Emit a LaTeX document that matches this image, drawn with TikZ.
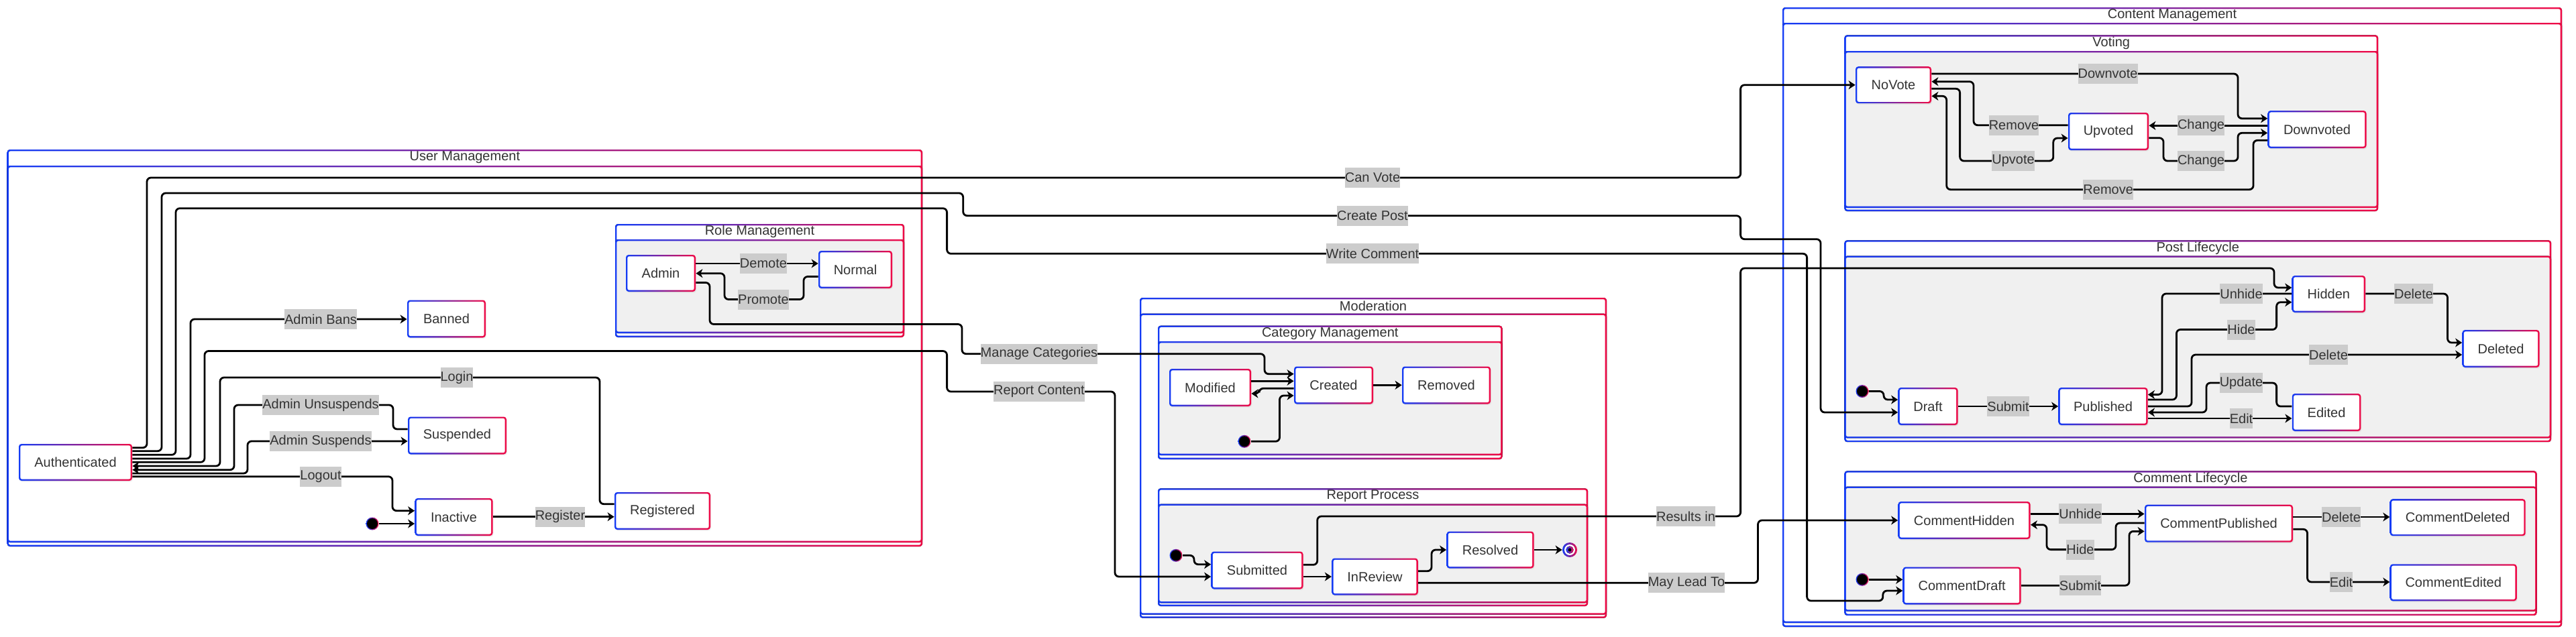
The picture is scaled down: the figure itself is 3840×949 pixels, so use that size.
\documentclass[tikz,border=0pt]{standalone}
\usepackage{fontspec}
\setmainfont{Liberation Sans}
\usetikzlibrary{arrows.meta,calc,shadows}

\definecolor{gblue}{RGB}{20,60,245}
\definecolor{gred}{RGB}{240,10,70}
\definecolor{txt}{RGB}{51,51,51}
\definecolor{lblbg}{RGB}{204,204,204}
\definecolor{clgray}{RGB}{240,240,240}

\newcommand\myfs{\fontsize{10pt}{12pt}\selectfont}

\newcommand\gbox[5]{%
  \fill[left color=gblue,right color=gred,rounded corners=2pt] (#1,#2) rectangle (#3,#4);
  \fill[#5,rounded corners=1.2pt] ([shift={(1.2pt,-1.2pt)}]#1,#2) rectangle ([shift={(-1.2pt,1.2pt)}]#3,#4);
}
\newcommand\clusterbox[9]{%
  \gbox{#2}{#3}{#4}{#5}{white}
  \gbox{#2}{#6}{#4}{#7}{#8}
  \node[ctitle] (#1) at ($(#2,#3)!0.5!(#4,#6)$) {#9};
}

\tikzset{
  st/.style={rectangle, rounded corners=2pt, left color=gblue, right color=gred, draw=none,
    text=txt, font=\myfs, inner sep=0pt,
    drop shadow={shadow xshift=0.5pt, shadow yshift=-0.8pt, opacity=0.12},
    path picture={\fill[white,rounded corners=1.2pt]
      ([shift={(1.2pt,1.2pt)}]path picture bounding box.south west) rectangle
      ([shift={(-1.2pt,-1.2pt)}]path picture bounding box.north east);}},
  sz/.style 2 args={minimum width=#1*0.5pt, minimum height=#2*0.5pt},
  lbl/.style={fill=lblbg, text=txt, font=\myfs, inner xsep=0pt, inner ysep=0pt,
    minimum height=15pt, sharp corners},
  ctitle/.style={text=txt, font=\myfs, inner sep=0pt},
  ini/.style={circle, minimum size=9.5pt, inner sep=0pt, left color=gblue, right color=gred,
    path picture={\fill[black] (path picture bounding box.center) circle (4pt);}},
  fin/.style={circle, minimum size=11pt, inner sep=0pt, left color=gblue, right color=gred,
    path picture={\fill[white] (path picture bounding box.center) circle (4pt);
      \fill[left color=gblue,right color=gred] (path picture bounding box.center) circle (2.8pt);
      \fill[black] (path picture bounding box.center) circle (1.2pt);}},
  tr/.style={draw=black, line width=1.4pt, rounded corners=3pt,
    -{Stealth[length=5pt,width=6.5pt,inset=1.5pt]}},
}

\begin{document}
\begin{tikzpicture}[x=0.5pt,y=-0.5pt]
\fill[white] (0,0) rectangle (3840,949);
\useasboundingbox (0,0) rectangle (3840,949);

% ---------- clusters ----------
\clusterbox{tUser}{10.7}{223}{1375}{815}{247}{809}{white}{User Management}
\clusterbox{tRole}{917}{334}{1348}{503}{357}{497}{clgray}{Role Management}
\clusterbox{tMod}{1699}{444}{2395}{921.7}{467.7}{916.7}{white}{Moderation}
\clusterbox{tCat}{1726}{485.7}{2239.5}{685}{509}{679}{clgray}{Category Management}
\clusterbox{tRep}{1726}{728.3}{2367}{904}{751.7}{899.3}{clgray}{Report Process}
\clusterbox{tCont}{2657}{11}{3819}{935}{34}{929}{white}{Content Management}
\clusterbox{tVote}{2749.4}{52.3}{3545}{315}{76}{310}{clgray}{Voting}
\clusterbox{tPost}{2749.4}{358.3}{3803}{659.2}{381.6}{653.4}{clgray}{Post Lifecycle}
\clusterbox{tCom}{2749.4}{702.3}{3781.5}{917.9}{725.6}{911.7}{clgray}{Comment Lifecycle}

% ---------- states ----------
\node[st, sz={169}{55}] (auth) at (112.5,689.5) {Authenticated};
\node[st, sz={117}{56}] (banned) at (665.5,475.5) {Banned};
\node[st, sz={147}{56}] (suspended) at (681.5,649.5) {Suspended};
\node[st, sz={116}{56}] (inactive) at (676.5,771) {Inactive};
\node[st, sz={143}{56}] (registered) at (987.5,762) {Registered};
\node[st, sz={104}{55}] (admin) at (985,407.5) {Admin};
\node[st, sz={110}{56}] (normal) at (1275,402) {Normal};
\node[ini] (ini1) at (555,781) {};

\node[st, sz={122}{56}] (modified) at (1804,578) {Modified};
\node[st, sz={118}{56}] (created) at (1988,574.5) {Created};
\node[st, sz={132}{56}] (removed) at (2156,574.5) {Removed};
\node[ini] (ini2) at (1855,658.3) {};
\node[st, sz={137}{56}] (submitted) at (1874,850.5) {Submitted};
\node[st, sz={128.5}{55}] (inreview) at (2049.5,860) {InReview};
\node[st, sz={130}{55}] (resolved) at (2221.5,820) {Resolved};
\node[ini] (ini3) at (1753,828.3) {};
\node[fin] (fin) at (2340,820) {};

\node[st, sz={113}{55}] (novote) at (2822.5,126.7) {NoVote};
\node[st, sz={120}{56}] (upvoted) at (3143,196) {Upvoted};
\node[st, sz={147}{56}] (downvoted) at (3454,193) {Downvoted};

\node[st, sz={89}{56}] (draft) at (2874,606) {Draft};
\node[st, sz={133}{56}] (published) at (3135,606) {Published};
\node[st, sz={109.4}{55}] (hidden) at (3471.3,438.5) {Hidden};
\node[st, sz={115}{56}] (deleted) at (3728,520) {Deleted};
\node[st, sz={102.5}{56}] (edited) at (3468,615) {Edited};
\node[ini] (ini4) at (2776,583.5) {};

\node[st, sz={197}{56}] (chidden) at (2928,776) {CommentHidden};
\node[st, sz={221}{56}] (cpub) at (3307.5,780.7) {CommentPublished};
\node[st, sz={202}{55}] (cdeleted) at (3663.7,771.7) {CommentDeleted};
\node[st, sz={176}{56}] (cdraft) at (2924.6,873.5) {CommentDraft};
\node[st, sz={189}{55}] (cedited) at (3657.2,868.8) {CommentEdited};
\node[ini] (ini5) at (2776,864.3) {};

% ---------- transitions: user management ----------
\draw[tr] (auth.east |- 0,667.7) -| (219,265) -- (2594.6,265) |- (novote.west);
\draw[tr] (auth.east |- 0,672.7) -| (241,288) -| (1435.7,321.7) -| (2594.6,356.7) -| (2714,615) -- (draft.west |- 0,615);
\draw[tr] (auth.east |- 0,678.3) -| (262,310.7) -| (1411.6,378.3) -| (2693.6,896) -| (2806.8,881) -- (cdraft.west |- 0,881);
\draw[tr] (auth.east |- 0,684) -| (284,476) -- (banned.west |- 0,476);
\draw[tr] (auth.east |- 0,689.3) -| (305,523.5) -| (1411.6,584) -| (1662,860) -- (submitted.west |- 0,860);
\draw[tr] (registered.west |- 0,751.7) -| (894,563) -| (328,695) -- (auth.east |- 0,695);
\draw[tr] (suspended.west |- 0,640) -| (586,604) -| (349,700.7) -- (auth.east |- 0,700.7);
\draw[tr] (auth.east |- 0,706) -| (369,658) -- (suspended.west |- 0,658);
\draw[tr] (auth.east |- 0,710.7) -| (585,761.7) -- (inactive.west |- 0,761.7);
\draw[tr] (ini1) -- (inactive.west |- ini1);
\draw[tr] (inactive.east |- 0,770.7) -- (registered.west |- 0,770.7);
\draw[tr] (admin.east |- 0,393) -- (normal.west |- 0,393);
\draw[tr] (normal.west |- 0,412.5) -| (1198,446.5) -| (1080,407.7) -- (admin.east |- 0,407.7);
\draw[tr] (admin.east |- 0,421.5) -| (1058,483.5) -| (1434,527.7) -| (1885,557.7) -- (created.west |- 0,557.7);

% ---------- moderation ----------
\draw[tr] (modified.east |- 0,568.3) -- (created.west |- 0,568.3);
\draw[tr] (created.west |- 0,579.3) -| (1877,587) -- (modified.east |- 0,587);
\draw[tr] (ini2) -| (1907.5,590) -- (created.west |- 0,590);
\draw[tr] (created.east |- 0,574.3) -- (removed.west |- 0,574.3);
\draw[tr] (ini3) -| (1780,841.7) -- (submitted.west |- 0,841.7);
\draw[tr] (submitted.east |- 0,860) -- (inreview.west |- 0,860);
\draw[tr] (submitted.east |- 0,842.3) -| (1963.7,770) -| (2594.6,400) -| (3390,429) -- (hidden.west |- 0,429);
\draw[tr] (inreview.east |- 0,851.7) -| (2134,820) -- (resolved.west |- 0,820);
\draw[tr] (resolved.east |- fin) -- (fin);
\draw[tr] (inreview.east |- 0,869.3) -| (2620.5,776) -- (chidden.west |- 0,776);

% ---------- voting ----------
\draw[tr] (novote.east |- 0,110) -| (3336,176.7) -- (downvoted.west |- 0,176.7);
\draw[tr] (upvoted.west |- 0,186.7) -| (2942,121.7) -- (novote.east |- 0,121.7);
\draw[tr] (novote.east |- 0,132.3) -| (2921.6,240) -| (3060.8,206) -- (upvoted.west |- 0,206);
\draw[tr] (downvoted.west |- 0,187.3) -- (upvoted.east |- 0,187.3);
\draw[tr] (upvoted.east |- 0,205.7) -| (3225,240) -| (3336,198.3) -- (downvoted.west |- 0,198.3);
\draw[tr] (downvoted.west |- 0,209.3) -| (3359,282.7) -| (2901.7,143.3) -- (novote.east |- 0,143.3);

% ---------- post lifecycle ----------
\draw[tr] (ini4) -| (2808,596) -- (draft.west |- 0,596);
\draw[tr] (draft.east |- 0,606) -- (published.west |- 0,606);
\draw[tr] (hidden.west |- 0,438) -| (3223,588.5) -- (published.east |- 0,588.5);
\draw[tr] (published.east |- 0,596) -| (3244.4,491.5) -| (3393.6,450.7) -- (hidden.west |- 0,450.7);
\draw[tr] (published.east |- 0,606) -| (3267,529) -- (deleted.west |- 0,529);
\draw[tr] (edited.west |- 0,606) -| (3393.6,571) -| (3289,615) -- (published.east |- 0,615);
\draw[tr] (published.east |- 0,624) -- (edited.west |- 0,624);
\draw[tr] (hidden.east |- 0,438) -| (3648.5,511) -- (deleted.west |- 0,511);

% ---------- comment lifecycle ----------
\draw[tr] (chidden.east |- 0,766.4) -- (cpub.west |- 0,766.4);
\draw[tr] (cpub.west |- 0,780) -| (3154,819.6) -| (3051,782.7) -- (chidden.east |- 0,782.7);
\draw[tr] (cdraft.east |- 0,873.2) -| (3174,792.4) -- (cpub.west |- 0,792.4);
\draw[tr] (ini5) -- (cdraft.west |- ini5);
\draw[tr] (cpub.east |- 0,771) -- (cdeleted.west |- 0,771);
\draw[tr] (cpub.east |- 0,789.3) -| (3439.5,868) -- (cedited.west |- 0,868);

% ---------- labels ----------
\node[lbl] (lCanVote) at (2046,265) {Can Vote};
\node[lbl] (lCreatePost) at (2046,321.7) {Create Post};
\node[lbl] (lWriteComment) at (2046,378.3) {Write Comment};
\node[lbl] (lAdminBans) at (478,476) {Admin Bans};
\node[lbl] (lReport) at (1549,584) {Report Content};
\node[lbl] (lLogin) at (681,563) {Login};
\node[lbl] (lUnsusp) at (478,604) {Admin Unsuspends};
\node[lbl] (lSusp) at (478,658) {Admin Suspends};
\node[lbl] (lLogout) at (478,710.7) {Logout};
\node[lbl] (lRegister) at (835,770.7) {Register};
\node[lbl] (lDemote) at (1138,393) {Demote};
\node[lbl] (lPromote) at (1138,446.5) {Promote};
\node[lbl] (lManage) at (1549,527.7) {Manage Categories};
\node[lbl] (lResults) at (2513,770) {Results in};
\node[lbl] (lMayLead) at (2514,869.3) {May Lead To};
\node[lbl] (lDownvote) at (3142,110) {Downvote};
\node[lbl] (lRemove1) at (3002,186.7) {Remove};
\node[lbl] (lUpvote) at (3001,240) {Upvote};
\node[lbl] (lChange1) at (3281,187.3) {Change};
\node[lbl] (lChange2) at (3281,240) {Change};
\node[lbl] (lRemove2) at (3142.7,282.7) {Remove};
\node[lbl] (lSubmit1) at (2993.5,606) {Submit};
\node[lbl] (lUnhide1) at (3341,438) {Unhide};
\node[lbl] (lHide1) at (3341,491.5) {Hide};
\node[lbl] (lDelete1) at (3471,529) {Delete};
\node[lbl] (lUpdate) at (3341,571) {Update};
\node[lbl] (lEdit1) at (3341,624) {Edit};
\node[lbl] (lDelete2) at (3598,438) {Delete};
\node[lbl] (lUnhide2) at (3101,766.4) {Unhide};
\node[lbl] (lHide2) at (3101,819.6) {Hide};
\node[lbl] (lSubmit2) at (3101,873.2) {Submit};
\node[lbl] (lDelete3) at (3490,771) {Delete};
\node[lbl] (lEdit2) at (3490,868) {Edit};
\end{tikzpicture}
\end{document}
